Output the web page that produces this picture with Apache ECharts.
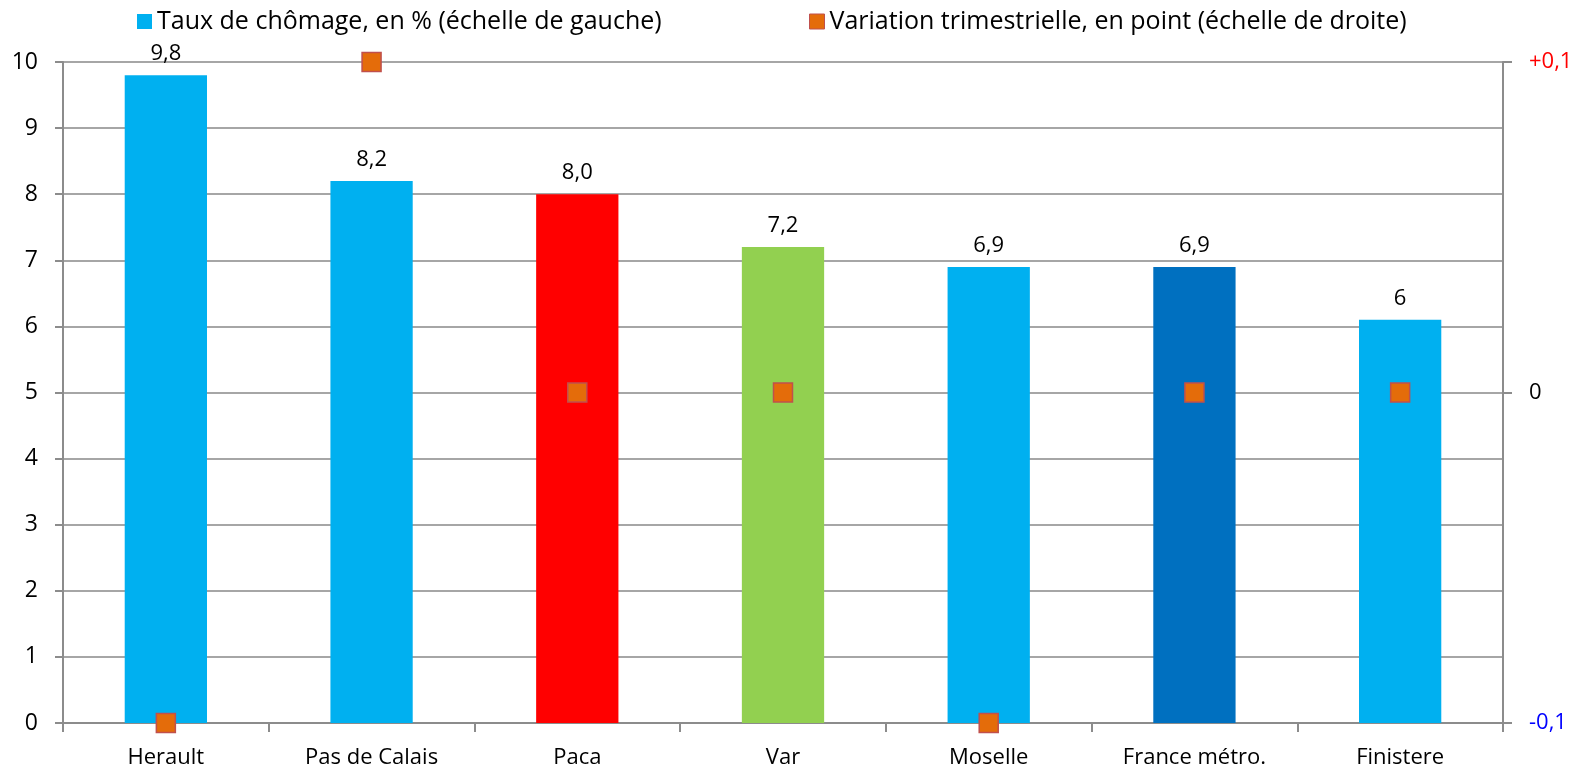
<!DOCTYPE html>
<html><head><meta charset="utf-8">
<script src="https://cdn.jsdelivr.net/npm/echarts@6/dist/echarts.min.js"></script>
<style>html,body{margin:0;padding:0;background:#fff}#c{width:1586px;height:769px}</style>
</head><body><div id="c"></div>
<script>
const categories = ['Herault','Pas de Calais','Paca','Var','Moselle','France métro.','Finistere'];
const tauxValues = [9.8, 8.2, 8.0, 7.2, 6.9, 6.9, 6.1];
const tauxLabels = ['9,8','8,2','8,0','7,2','6,9','6,9','6'];
const barColors = ['#00B0F0','#00B0F0','#FF0000','#92D050','#00B0F0','#0070C0','#00B0F0'];
const variationValues = [-0.1, 0.1, 0, 0, -0.1, 0, 0];
const rightTickLabels = {'-0.1':'-0,1','0':'0','0.1':'+0,1'};
const seriesNames = ['Taux de chômage, en % (échelle de gauche)','Variation trimestrielle, en point (échelle de droite)'];

const FONT = 'Open Sans';
const chart = echarts.init(document.getElementById('c'), null, {renderer:'canvas'});
const legendText = {fontSize:25, color:'#000', fontFamily:FONT};
chart.setOption({
  animation:false,
  textStyle:{fontFamily:FONT},
  legend:[
    {top:4, left:132, itemWidth:15, itemHeight:15, itemGap:8, textStyle:legendText,
     data:[{name:seriesNames[0], icon:'rect'}]},
    {top:4, left:804, itemWidth:15, itemHeight:15, itemGap:8, textStyle:legendText,
     data:[{name:seriesNames[1], icon:'rect', itemStyle:{color:'#E46C0A', borderColor:'#C0504D', borderWidth:1}}]}
  ],
  grid:{left:63, right:83, top:62, bottom:46},
  xAxis:{
    type:'category', data:categories,
    axisLine:{lineStyle:{color:'#8C8C8C', width:2}},
    axisTick:{show:true, length:9, lineStyle:{color:'#8C8C8C', width:2}},
    axisLabel:{fontSize:22, color:'#000', margin:24, fontFamily:FONT}
  },
  yAxis:[
    {type:'value', min:0, max:10, interval:1,
     axisLine:{show:true, lineStyle:{color:'#8C8C8C', width:2}},
     axisTick:{show:true, length:8, lineStyle:{color:'#8C8C8C', width:2}},
     splitLine:{lineStyle:{color:'#A6A6A6', width:2}},
     axisLabel:{fontSize:23, color:'#000', margin:25, fontFamily:FONT}},
    {type:'value', min:-0.1, max:0.1, interval:0.1, position:'right',
     axisLine:{show:true, lineStyle:{color:'#8C8C8C', width:2}},
     axisTick:{show:true, length:9, lineStyle:{color:'#8C8C8C', width:2}},
     splitLine:{show:false},
     axisLabel:{fontSize:22, margin:26, fontFamily:FONT,
       formatter:function(v){const k=String(Math.round(v*10)/10); const t=rightTickLabels[k]; return v>0.001?'{p|'+t+'}':(v< -0.001?'{n|'+t+'}':'{z|'+t+'}');},
       rich:{p:{color:'#FF0000',fontSize:22,fontFamily:FONT},n:{color:'#0000FF',fontSize:22,fontFamily:FONT},z:{color:'#000',fontSize:22,fontFamily:FONT}}}}
  ],
  series:[
    {name:seriesNames[0], type:'bar', yAxisIndex:0, barWidth:'40%',
     itemStyle:{color:'#00B0F0'},
     data:tauxValues.map((v,i)=>({value:v, itemStyle:{color:barColors[i]}})),
     label:{show:true, position:'top', distance:10, fontSize:22, color:'#000', fontFamily:FONT,
       formatter:p=>tauxLabels[p.dataIndex]}},
    {name:seriesNames[1], type:'scatter', yAxisIndex:1, symbol:'rect', symbolSize:19,
     itemStyle:{color:'#E46C0A', borderColor:'#C0504D', borderWidth:1.5, opacity:1},
     data:variationValues, z:5}
  ]
});
</script></body></html>
